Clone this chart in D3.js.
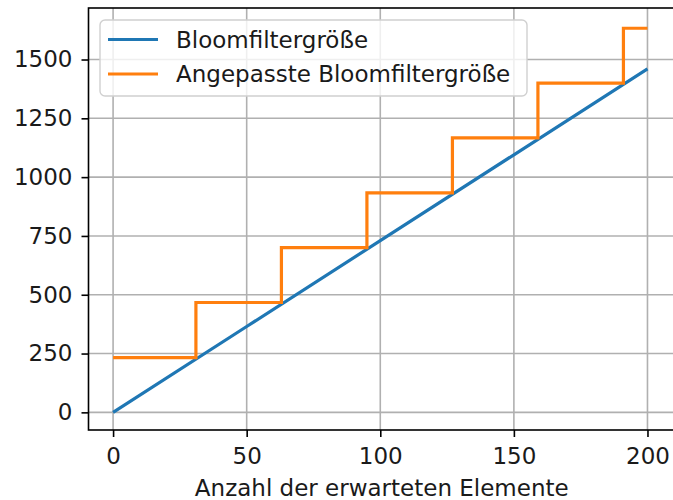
<!DOCTYPE html>
<html>
<head>
<meta charset="utf-8">
<script src="https://cdn.jsdelivr.net/npm/d3@7"></script>
<style>
  body { margin: 0; background: #fff; }
  text { font-family: "DejaVu Sans", sans-serif; }
</style>
</head>
<body>
<script>
// data
var blueX = [0, 50, 100, 150, 200];
var blueY = [0, 365, 730, 1095, 1460];
var stepStarts = [0, 31, 63, 95, 127, 159, 191];
var stepLevels = [233, 467, 700, 933, 1167, 1400, 1633];
var xEnd = 200;
var xTicks = [0, 50, 100, 150, 200];
var yTicks = [0, 250, 500, 750, 1000, 1250, 1500];
var legendLabels = ["Bloomfiltergröße", "Angepasste Bloomfiltergröße"];
var xLabel = "Anzahl der erwarteten Elemente";

var W = 673, H = 500;
var pLeft = 88.5, pRight = 675, pTop = 8, pBottom = 430;
var fs = "23px";

var svg = d3.select("body").append("svg")
    .attr("width", W)
    .attr("height", H);

var x = d3.scaleLinear().domain([-9.2, 210.3]).range([pLeft, pRight]);
var y = d3.scaleLinear().domain([-75, 1719]).range([pBottom, pTop]);

//grid
svg.append("g").selectAll("line").data(xTicks).enter().append("line")
    .attr("x1", d => x(d)).attr("x2", d => x(d))
    .attr("y1", pTop).attr("y2", pBottom)
    .attr("stroke", "#b0b0b0").attr("stroke-width", 1.6);
svg.append("g").selectAll("line").data(yTicks).enter().append("line")
    .attr("x1", pLeft).attr("x2", pRight)
    .attr("y1", d => y(d)).attr("y2", d => y(d))
    .attr("stroke", "#b0b0b0").attr("stroke-width", 1.6);

//lines
var blue = blueX.map((d, i) => [d, blueY[i]]);
var orange = stepStarts.map((d, i) => [d, stepLevels[i]]);
orange.push([xEnd, stepLevels[stepLevels.length - 1]]);

var line = d3.line().x(d => x(d[0])).y(d => y(d[1]));

svg.append("path")
    .attr("d", line(blue))
    .attr("fill", "none")
    .attr("stroke", "#1f77b4")
    .attr("stroke-width", 3.2);

svg.append("path")
    .attr("d", line.curve(d3.curveStepAfter)(orange))
    .attr("fill", "none")
    .attr("stroke", "#ff7f0e")
    .attr("stroke-width", 3.2);

//axes
var xAxis = svg.append("g")
    .attr("transform", "translate(0," + pBottom + ")")
    .call(d3.axisBottom(x).tickValues(xTicks).tickSize(7).tickPadding(11));
var yAxis = svg.append("g")
    .attr("transform", "translate(" + pLeft + ",0)")
    .call(d3.axisLeft(y).tickValues(yTicks).tickSize(7).tickPadding(9).tickFormat(d3.format("d")));

[xAxis, yAxis].forEach(function(a) {
    a.select(".domain").remove();
    a.selectAll(".tick line").attr("stroke", "#000").attr("stroke-width", 1.6);
    a.selectAll("text").style("font-size", fs).attr("fill", "#1a1a1a")
        .style("font-family", "'DejaVu Sans', sans-serif");
});

//spines
svg.append("rect")
    .attr("x", pLeft).attr("y", pTop)
    .attr("width", pRight - pLeft).attr("height", pBottom - pTop)
    .attr("fill", "none").attr("stroke", "#000").attr("stroke-width", 1.6);

svg.append("text")
    .attr("x", (pLeft + pRight) / 2)
    .attr("y", 496)
    .attr("text-anchor", "middle")
    .style("font-size", fs)
    .attr("fill", "#1a1a1a")
    .text(xLabel);

//legend
var leg = svg.append("g");
leg.append("rect")
    .attr("x", 100).attr("y", 20)
    .attr("width", 427).attr("height", 76)
    .attr("rx", 5)
    .attr("fill", "#fff").attr("fill-opacity", 0.8)
    .attr("stroke", "#d0d0d0").attr("stroke-width", 1.4);

var legColors = ["#1f77b4", "#ff7f0e"];
legendLabels.forEach(function(t, i) {
    var cy = 39.5 + i * 34.5;
    leg.append("line")
        .attr("x1", 108).attr("x2", 158)
        .attr("y1", cy).attr("y2", cy)
        .attr("stroke", legColors[i]).attr("stroke-width", 3.2);
    leg.append("text")
        .attr("x", 176).attr("y", cy + 8)
        .style("font-size", fs)
        .attr("fill", "#1a1a1a")
        .text(t);
});
</script>
</body>
</html>
